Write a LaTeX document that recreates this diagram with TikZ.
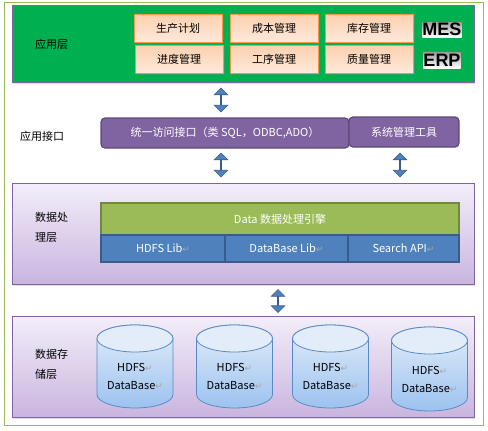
\documentclass[tikz,border=0pt]{standalone}
\usepackage{fontspec}
\setmainfont{Noto Sans CJK SC}
\newfontfamily\symf{DejaVu Sans}
\newfontfamily\tagf{Liberation Sans}
\usetikzlibrary{shapes.arrows,shadows}
\definecolor{outerg}{HTML}{9BBB59}
\definecolor{appg}{HTML}{00B050}
\definecolor{purp}{HTML}{8064A2}
\definecolor{purpd}{HTML}{5C4A7A}
\definecolor{orgline}{HTML}{F79646}
\definecolor{orgtop}{HTML}{FBCFAE}
\definecolor{orgbot}{HTML}{FFEADB}
\definecolor{engg}{HTML}{9BBB59}
\definecolor{enggd}{HTML}{71893F}
\definecolor{libb}{HTML}{4F81BD}
\definecolor{libbd}{HTML}{385D8A}
\definecolor{laytop}{HTML}{F3EEF9}
\definecolor{laybot}{HTML}{C9B5DF}
\definecolor{cyltop}{HTML}{E2EDF9}
\definecolor{cylbot}{HTML}{9CC2F0}
\definecolor{cylline}{HTML}{5A8BC8}
\newcommand*{\parmark}{{\symf\small\textcolor{gray!70}{↵}}}
\tikzset{
  lbl/.style={anchor=west,font=\fontsize{11}{20}\selectfont,align=left,inner sep=0pt},
  layer/.style={draw=purp,line width=0.8pt,top color=laytop,bottom color=laybot,
    drop shadow={opacity=0.25,shadow xshift=1pt,shadow yshift=-2pt}},
  modbox/.style={draw=orgline,line width=0.8pt,top color=orgtop,bottom color=orgbot,
    minimum width=88pt,minimum height=28pt,inner sep=0pt,font=\fontsize{11}{13}\selectfont,
    drop shadow={opacity=0.3,shadow xshift=1.5pt,shadow yshift=-1.5pt}},
  tagbox/.style={top color=gray!75,bottom color=white,inner sep=0pt,
    font=\tagf\bfseries\fontsize{18}{18}\selectfont},
  ifbox/.style={draw=purpd,line width=1.2pt,fill=purp,rounded corners=4pt,text=white,
    minimum height=30pt,inner sep=0pt,font=\fontsize{11}{13}\selectfont},
  libbox/.style={draw=libbd,line width=1.2pt,fill=libb,text=white,minimum height=27pt,
    inner sep=0pt,font=\fontsize{11}{13}\selectfont},
  dbl/.style={double arrow,shape border rotate=90,draw=libbd,fill=libb,line width=0.6pt,
    minimum width=13.5pt,double arrow head extend=3.8pt,inner sep=0pt},
  cylbody/.style={draw=cylline,line width=0.8pt,top color=cyltop,bottom color=cylbot},
  cyllid/.style={draw=cylline,line width=0.8pt,fill=cyltop},
  dbtext/.style={align=center,inner sep=0pt,font=\fontsize{11}{18}\selectfont}
}

\begin{document}
\begin{tikzpicture}[x=1pt,y=-1pt]
\useasboundingbox (0,0) rectangle (488,431);
% outer frame
\draw[outerg,line width=1pt] (4,2) rectangle (483,425);
% application layer
\draw[draw=purp,line width=0.8pt,fill=appg,
  drop shadow={opacity=0.25,shadow xshift=1pt,shadow yshift=-2pt}] (12,5) rectangle (474,82);
\node[lbl] (applbl) at (35,44) {应用层};
\foreach \nm/\x/\y/\txt in {plan/178/28/生产计划, cost/274/28/成本管理, stock/369/28/库存管理,
  sched/179/59/进度管理, proc/274/59/工序管理, qual/369/59/质量管理}
  \node[modbox] (\nm) at (\x,\y) {\txt};
\node[tagbox,minimum width=38pt,minimum height=15pt] (mes) at (442,29.5) {MES};
\node[tagbox,minimum width=37pt,minimum height=16pt] (erp) at (442,60) {ERP};
% interface layer
\node[lbl] (iflbl) at (20,136) {应用接口};
\node[ifbox,minimum width=248pt] (iface) at (225,133) {统一访问接口（类 SQL，ODBC,ADO）};
\node[ifbox,minimum width=110pt] (sysmgr) at (404,132) {系统管理工具};
\node[dbl,minimum height=24pt] (arr1) at (221,100) {};
\node[dbl,minimum height=24pt] (arr2) at (221,165) {};
\node[dbl,minimum height=24pt] (arr3) at (400,165) {};
% processing layer
\draw[layer] (12,183) rectangle (474,284);
\node[lbl] (proclbl) at (35,227) {数据处\\理层};
\node[draw=enggd,line width=1.2pt,fill=engg,text=white,minimum width=358pt,minimum height=32pt,
  inner sep=0pt,font=\fontsize{11}{13}\selectfont] (engine) at (280,219) {Data 数据处理引擎};
\node[libbox,minimum width=124pt] (libhdfs) at (163,248.5) {HDFS Lib\parmark};
\node[libbox,minimum width=123pt] (libdb) at (286.5,248.5) {DataBase Lib\parmark};
\node[libbox,minimum width=111pt] (libsearch) at (403.5,248.5) {Search API\parmark};
\node[dbl,minimum height=23pt] (arr4) at (278,301) {};
% storage layer
\draw[layer] (12,316) rectangle (474,417);
\node[lbl] (storelbl) at (35,364) {数据存\\储层};
\foreach \nm/\cx/\ty/\by in {db1/135/325/408, db2/234.5/325/408, db3/330.5/325/408, db4/429.5/327/411} {
  \draw[cylbody] (\cx-38,\ty+13.5) -- (\cx-38,\by-13.5)
    arc[start angle=180,end angle=360,x radius=38pt,y radius=13.5pt]
    -- (\cx+38,\ty+13.5) arc[start angle=0,end angle=180,x radius=38pt,y radius=13.5pt] -- cycle;
  \draw[cyllid] (\cx,\ty+13.5) ellipse [x radius=38pt,y radius=13.5pt];
  \node[dbtext] (\nm) at (\cx,\by-32) {HDFS\parmark\\DataBase\parmark};
}
\end{tikzpicture}
\end{document}
